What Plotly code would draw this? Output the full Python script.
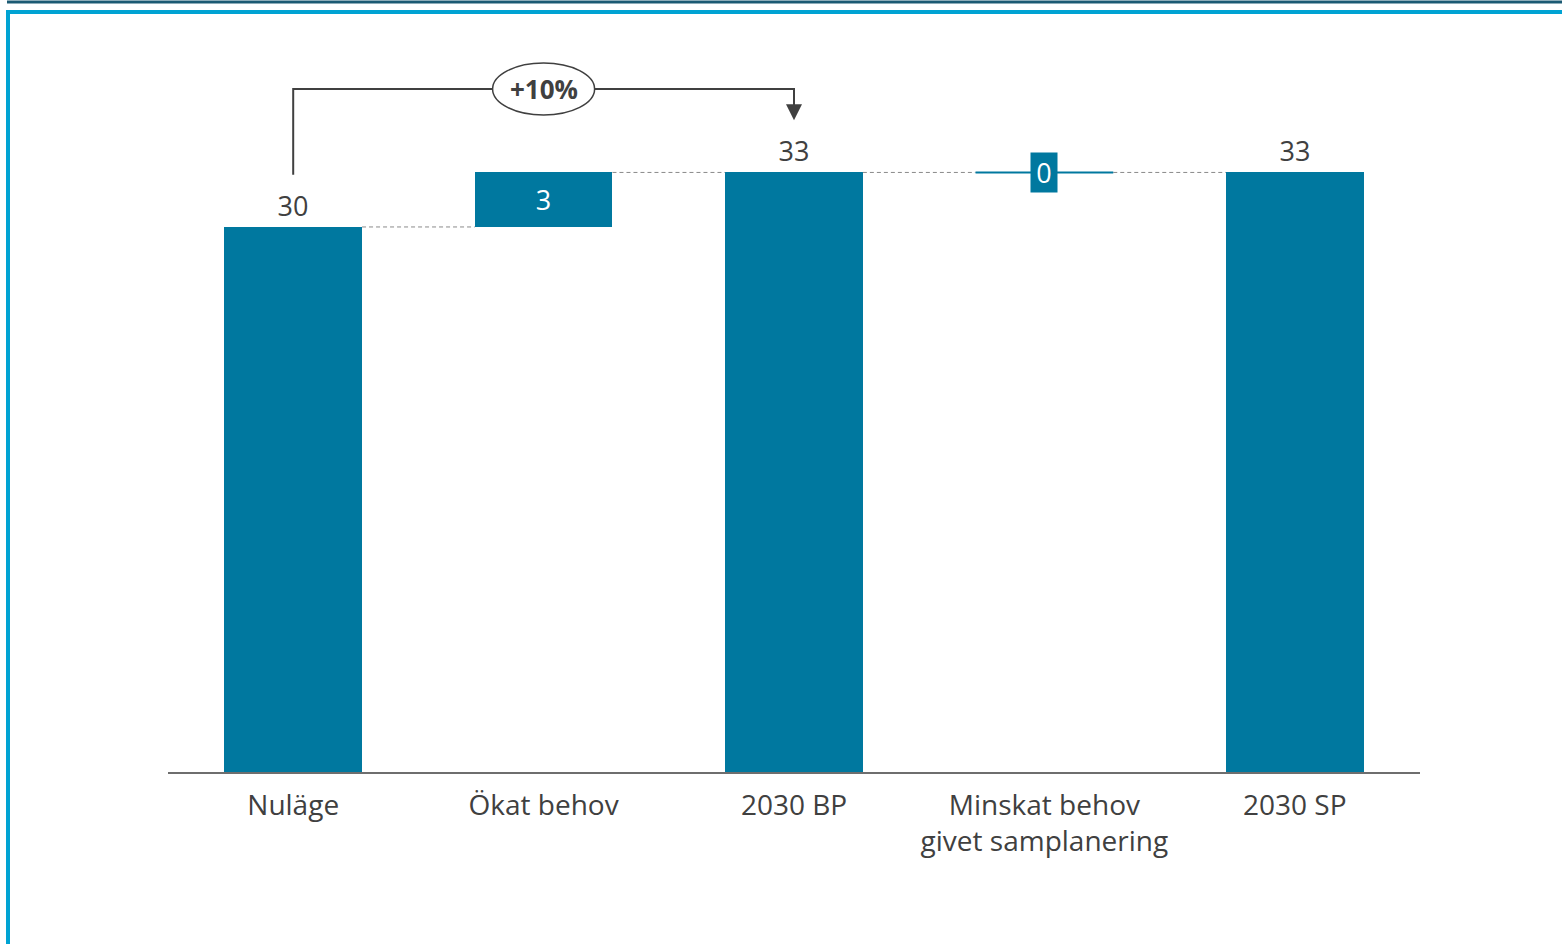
import plotly.graph_objects as go

# ---- data ----
categories = ["Nuläge", "Ökat behov", "2030 BP", "Minskat behov<br>givet samplanering", "2030 SP"]
values = [30, 3, 33, 0, 33]
measures = ["absolute", "relative", "total", "relative", "total"]
change_label = "+10%"

# ---- styling ----
TEAL = "#00789F"
TXT = "#404040"
FONT = "Open Sans"
W, H = 1562, 944
ML, MR, MT, MB = 168, 142, 50, 172
BAR_W = 0.55

# compute bases / heights
bases, heights, levels = [], [], []
run = 0
for v, m in zip(values, measures):
    if m == "absolute":
        bases.append(0); heights.append(v); run = v
    elif m == "total":
        bases.append(0); heights.append(run)
    else:
        bases.append(run); heights.append(v); run = run + v
    levels.append(run)

xs = list(range(len(categories)))
y_top = 39.74

def px_x(p):
    return (p - ML) / (W - ML - MR)

def px_y(p):
    return (H - MB - p) / (H - MT - MB)

texts = [str(v) for v in values]
textpos = ["outside" if m != "relative" else "inside" for m in measures]
textpos[3] = "none"

fig = go.Figure()
fig.add_trace(go.Bar(
    x=xs, y=heights, base=bases, width=BAR_W,
    marker=dict(color=TEAL, line=dict(width=0)),
    text=texts, textposition=textpos, insidetextanchor="middle",
    insidetextfont=dict(color="white", size=27, family=FONT),
    outsidetextfont=dict(color=TXT, size=27, family=FONT),
    constraintext="none", cliponaxis=False, hoverinfo="skip",
))

shapes = []
# connectors
for i in range(len(xs) - 1):
    shapes.append(dict(type="line", xref="x", yref="y",
                       x0=xs[i] + BAR_W / 2, x1=xs[i + 1] - BAR_W / 2,
                       y0=levels[i], y1=levels[i],
                       line=dict(color="#8a8a8a", width=1, dash="4px,3px")))
# zero-value bar drawn as a line
for i, h in enumerate(heights):
    if h == 0:
        shapes.append(dict(type="line", xref="x", yref="y",
                           x0=xs[i] - BAR_W / 2, x1=xs[i] + BAR_W / 2,
                           y0=bases[i], y1=bases[i],
                           line=dict(color=TEAL, width=2)))

# bracket +10%
off = 2.87
br_y = levels[2] + 4.59
shapes.append(dict(type="path", xref="x", yref="y",
                   path=f"M {xs[0]},{values[0] + off} L {xs[0]},{br_y} L {xs[2]},{br_y} L {xs[2]},{levels[2] + off + 0.9}",
                   line=dict(color=TXT, width=2)))
shapes.append(dict(type="circle", xref="x", yref="y",
                   xsizemode="pixel", ysizemode="pixel",
                   xanchor=(xs[0] + xs[2]) / 2, yanchor=br_y,
                   x0=-51, x1=51, y0=-26, y1=26,
                   fillcolor="white", line=dict(color=TXT, width=1.5)))

# frame decorations
shapes.append(dict(type="line", xref="paper", yref="paper",
                   x0=px_x(7), x1=px_x(1562), y0=px_y(2), y1=px_y(2),
                   line=dict(color="#1B5A73", width=3)))
shapes.append(dict(type="line", xref="paper", yref="paper",
                   x0=px_x(6), x1=px_x(1562), y0=px_y(12), y1=px_y(12),
                   line=dict(color="#00A3D3", width=4)))
shapes.append(dict(type="line", xref="paper", yref="paper",
                   x0=px_x(8), x1=px_x(8), y0=px_y(10.5), y1=px_y(944),
                   line=dict(color="#00A3D3", width=4)))

annotations = [
    dict(x=(xs[0] + xs[2]) / 2, y=br_y, xref="x", yref="y", text=f"<b>{change_label}</b>",
         showarrow=False, font=dict(size=26, color=TXT, family=FONT)),
    dict(x=xs[2], y=levels[2] + off, xref="x", yref="y",
         ax=xs[2], ay=levels[2] + off + 1.3, axref="x", ayref="y",
         showarrow=True, arrowhead=2, arrowsize=1.6, arrowwidth=2, arrowcolor=TXT, text=""),
]
for i, h in enumerate(heights):
    if h == 0:
        annotations.append(dict(x=xs[i], y=bases[i], xref="x", yref="y", text=str(values[i]),
                                showarrow=False, bgcolor=TEAL, width=22, height=35, borderpad=2,
                                font=dict(size=27, color="white", family=FONT)))

fig.update_layout(
    width=W, height=H,
    margin=dict(l=ML, r=MR, t=MT, b=MB),
    paper_bgcolor="white", plot_bgcolor="white",
    showlegend=False,
    shapes=shapes, annotations=annotations,
    font=dict(family=FONT, color=TXT, size=27),
    bargap=0,
    xaxis=dict(range=[-0.5, len(xs) - 0.5], tickmode="array", tickvals=xs, ticktext=categories,
               showline=True, linecolor="#6e6e6e", linewidth=2, showgrid=False, zeroline=False,
               ticks="", tickfont=dict(size=28, color=TXT, family=FONT), ticklabelstandoff=7),
    yaxis=dict(range=[0, y_top], visible=False, showgrid=False, zeroline=False),
)

fig.write_html("out.html")
